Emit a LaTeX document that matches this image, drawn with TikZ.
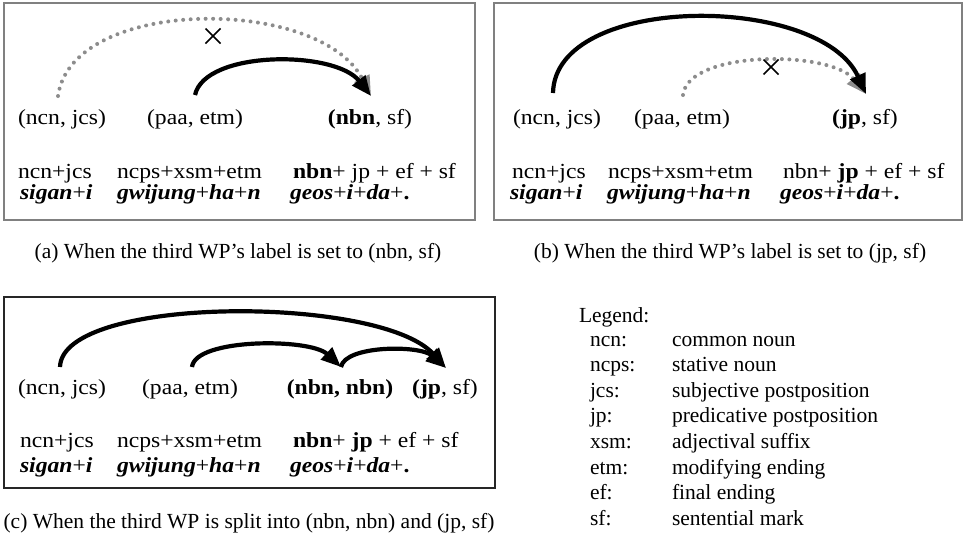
\documentclass[tikz,border=0pt]{standalone}
\usepackage{fontspec}
\setmainfont{Liberation Serif}
\usetikzlibrary{arrows.meta,shapes.misc}
\newcommand{\bx}[1]{\scalebox{1.1}[1]{#1}}
\newcommand{\bi}[1]{\textbf{\textit{#1}}}
\begin{document}
\begin{tikzpicture}[x=1pt,y=-1pt,
  every node/.style={inner sep=0pt, outer sep=0pt},
  txt/.style={font=\fontsize{21.5}{24}\selectfont},
  wp/.style={txt, anchor=base},
  row/.style={txt, anchor=base west},
  captext/.style={txt, anchor=base},
  leg/.style={txt, anchor=base west},
  panelA/.style={draw=black!50, line width=1.5pt},
  panelC/.style={draw=black!85, line width=1.5pt},
  dep/.style={line width=4.2pt, -{Triangle[length=20pt,width=16pt]}},
  nodep/.style={draw=black!45, line width=4pt, line cap=round, dash pattern=on 0pt off 7.5pt, -{Triangle[length=20pt,width=16pt,fill=black!45]}},
  xmark/.style={cross out, draw, line width=1.7pt, minimum size=15pt}
]
\useasboundingbox (0,0) rectangle (964,536);

% ---------- panel boxes ----------
\node[panelA, minimum width=471pt, minimum height=217pt] (boxa) at (239.5,111.5) {};
\node[panelA, minimum width=468pt, minimum height=217pt] (boxb) at (728,111.5) {};
\node[panelC, minimum width=491pt, minimum height=191pt] (boxc) at (249.5,392.5) {};

% ---------- panel (a) ----------
\node[wp] (a-w1) at (62,124) {\bx{(ncn, jcs)}};
\node[wp] (a-w2) at (195,124) {\bx{(paa, etm)}};
\node[wp] (a-w3) at (370,124) {\bx{\textbf{(nbn}, sf)}};
\node[row] (a-r11) at (18,178) {\bx{ncn+jcs}};
\node[row] (a-r12) at (117,178) {\bx{ncps+xsm+etm}};
\node[row] (a-r13) at (293,178) {\bx{\textbf{nbn}+ jp + ef + sf}};
\node[row] (a-r21) at (20,199) {\bx{\bi{sigan}+\bi{i}}};
\node[row] (a-r22) at (117,199) {\bx{\bi{gwijung}+\bi{ha}+\bi{n}}};
\node[row] (a-r23) at (290,199) {\bx{\bi{geos}+\bi{i}+\bi{da}+\textbf{.}}};
\coordinate (a-s1) at (58,96);
\coordinate (a-s2) at (195,95);
\coordinate (a-t3) at (371,96);
\draw[nodep] (a-s1) .. controls (72,-4) and (320,-4) .. (a-t3);
\draw[dep] (a-s2) .. controls (205,50) and (335,50) .. (a-t3);
\node[xmark] (a-x) at (213,36) {};

% ---------- panel (b) ----------
\node[wp] (b-w1) at (557,124) {\bx{(ncn, jcs)}};
\node[wp] (b-w2) at (682,124) {\bx{(paa, etm)}};
\node[wp] (b-w3) at (865,124) {\bx{\textbf{(jp}, sf)}};
\node[row] (b-r11) at (512,178) {\bx{ncn+jcs}};
\node[row] (b-r12) at (608,178) {\bx{ncps+xsm+etm}};
\node[row] (b-r13) at (783,178) {\bx{nbn+ \textbf{jp} + ef + sf}};
\node[row] (b-r21) at (510,199) {\bx{\bi{sigan}+\bi{i}}};
\node[row] (b-r22) at (607,199) {\bx{\bi{gwijung}+\bi{ha}+\bi{n}}};
\node[row] (b-r23) at (780,199) {\bx{\bi{geos}+\bi{i}+\bi{da}+\textbf{.}}};
\coordinate (b-s1) at (553,93);
\coordinate (b-s2) at (683,95);
\coordinate (b-t3) at (866,94);
\draw[nodep] (b-s2) .. controls (688,50) and (830,50) .. (b-t3);
\draw[dep] (b-s1) .. controls (555,-7) and (820,-7) .. (b-t3);
\node[xmark] (b-x) at (771,67) {};

% ---------- panel (c) ----------
\node[wp] (c-w1) at (62,394) {\bx{(ncn, jcs)}};
\node[wp] (c-w2) at (190,394) {\bx{(paa, etm)}};
\node[wp] (c-w3) at (340,394) {\bx{\textbf{(nbn, nbn)}}};
\node[wp] (c-w4) at (445,394) {\bx{\textbf{(jp}, sf)}};
\node[row] (c-r11) at (20,447) {\bx{ncn+jcs}};
\node[row] (c-r12) at (117,447) {\bx{ncps+xsm+etm}};
\node[row] (c-r13) at (293,447) {\bx{\textbf{nbn}+ \textbf{jp} + ef + sf}};
\node[row] (c-r21) at (20,472) {\bx{\bi{sigan}+\bi{i}}};
\node[row] (c-r22) at (117,472) {\bx{\bi{gwijung}+\bi{ha}+\bi{n}}};
\node[row] (c-r23) at (290,472) {\bx{\bi{geos}+\bi{i}+\bi{da}+\textbf{.}}};
\coordinate (c-s1) at (60,367);
\coordinate (c-s2) at (192,367);
\coordinate (c-t3) at (341,367);
\coordinate (c-t4) at (446,368);
\draw[dep] (c-s1) .. controls (62,295) and (380,295) .. (c-t4);
\draw[dep] (c-s2) .. controls (195,338) and (310,338) .. (c-t3);
\draw[dep] (c-t3) .. controls (345,345) and (420,345) .. (c-t4);

% ---------- captions ----------
\node[captext] (cap-a) at (238,258) {(a) When the third WP’s label is set to (nbn, sf)};
\node[captext] (cap-b) at (730,258) {(b) When the third WP’s label is set to (jp, sf)};
\node[captext] (cap-c) at (249,528) {(c) When the third WP is split into (nbn, nbn) and (jp, sf)};

% ---------- legend ----------
\node[leg] (lg) at (579,322) {Legend:};
\foreach \k/\d [count=\i from 0] in {ncn:/common noun, ncps:/stative noun, jcs:/subjective postposition, jp:/predicative postposition, xsm:/adjectival suffix, etm:/modifying ending, ef:/final ending, sf:/sentential mark}{
  \node[leg] (lk\i) at (590,346+25.6*\i) {\k};
  \node[leg] (ld\i) at (672,346+25.6*\i) {\d};
}
\end{tikzpicture}
\end{document}
